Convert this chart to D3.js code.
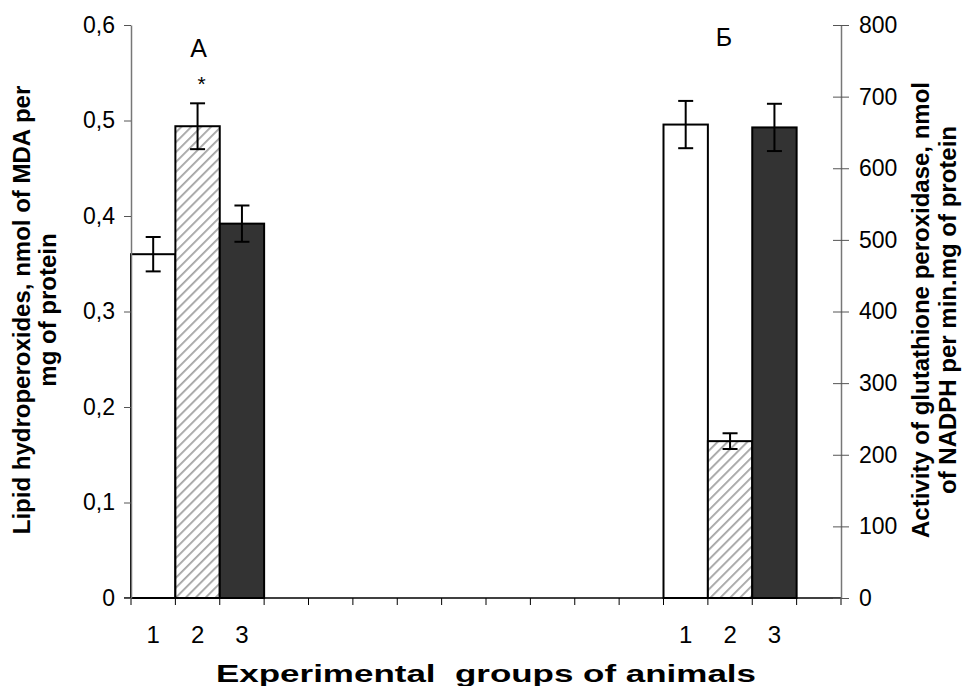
<!DOCTYPE html>
<html><head><meta charset="utf-8">
<script src="https://cdn.jsdelivr.net/npm/d3@7"></script>
<style>body{margin:0;background:#fff}svg{display:block}text{font-family:Arial,"Liberation Sans",sans-serif}</style>
</head><body><svg id="c" width="967" height="686"></svg>
<script>
const categories = ["1","2","3","","","","","","","","","","1","2","3",""];
const groupA = [0, 1, 2];
const valuesA = [0.36, 0.494, 0.392];
const errA = [0.018, 0.024, 0.019];
const groupB = [12, 13, 14];
const valuesB = [661, 219, 657];
const errB = [33, 11, 33];
const fills = ["white", "url(#hatch)", "#333333"];
const leftTicks = [0, 0.1, 0.2, 0.3, 0.4, 0.5, 0.6];
const rightTicks = [0, 100, 200, 300, 400, 500, 600, 700, 800];
const starA = 1, starB = 13;

const svg = d3.select("#c");
const L = 131, R = 841, T = 25, B = 598;
const FONT = "Arial, Liberation Sans, sans-serif";
const defs = svg.append("defs");
const pat = defs.append("pattern").attr("id","hatch").attr("patternUnits","userSpaceOnUse")
  .attr("width",7).attr("height",7).attr("patternTransform","rotate(45)");
pat.append("rect").attr("width",7).attr("height",7).attr("fill","white");
pat.append("line").attr("x1",0).attr("y1",0).attr("x2",0).attr("y2",7).attr("stroke","#a4a4a4").attr("stroke-width",3.6);

const x = d3.scaleBand().domain(d3.range(categories.length)).range([L, R]).padding(0);
const yL = d3.scaleLinear().domain([0, 0.6]).range([B, T]);
const yR = d3.scaleLinear().domain([0, 800]).range([B, T]);

const gB = svg.append("g");
groupA.forEach((c, i) => {
  gB.append("rect").attr("x", x(c)).attr("y", yL(valuesA[i])).attr("width", x.bandwidth())
    .attr("height", B - yL(valuesA[i])).attr("fill", fills[i]).attr("stroke","#000").attr("stroke-width",2);
});
groupB.forEach((c, i) => {
  gB.append("rect").attr("x", x(c)).attr("y", yR(valuesB[i])).attr("width", x.bandwidth())
    .attr("height", B - yR(valuesB[i])).attr("fill", fills[i]).attr("stroke","#000").attr("stroke-width",2);
});
function errbar(cx, y1, y2) {
  const g = svg.append("g").attr("stroke","#000").attr("stroke-width",2);
  g.append("line").attr("x1",cx).attr("x2",cx).attr("y1",y1).attr("y2",y2);
  g.append("line").attr("x1",cx-7.5).attr("x2",cx+7.5).attr("y1",y1).attr("y2",y1);
  g.append("line").attr("x1",cx-7.5).attr("x2",cx+7.5).attr("y1",y2).attr("y2",y2);
}
groupA.forEach((c, i) => errbar(x(c)+x.bandwidth()/2, yL(valuesA[i]+errA[i]), yL(valuesA[i]-errA[i])));
groupB.forEach((c, i) => errbar(x(c)+x.bandwidth()/2, yR(valuesB[i]+errB[i]), yR(valuesB[i]-errB[i])));

// asterisks and panel letters
svg.append("text").attr("x", x(starA)+x.bandwidth()/2 + 4).attr("y", yL(valuesA[starA]+errA[starA]) - 12)
  .attr("text-anchor","middle").attr("font-size",21).attr("font-family",FONT).text("*");
svg.append("text").attr("x", x(starB)+x.bandwidth()/2 + 2).attr("y", yR(valuesB[starB]+errB[starB]) - 12)
  .attr("text-anchor","middle").attr("font-size",21).attr("font-family",FONT).text("*");
svg.append("text").attr("x", x(starA)+x.bandwidth()/2 + 1).attr("y", 57).attr("text-anchor","middle")
  .attr("font-size",25).attr("font-family",FONT).text("А");
svg.append("text").attr("x", x(starB)+x.bandwidth()/2 - 6).attr("y", 46).attr("text-anchor","middle")
  .attr("font-size",25).attr("font-family",FONT).text("Б");

// x axis
const xa = svg.append("g").attr("transform",`translate(0,${B})`);
xa.append("line").attr("x1", L - 7).attr("x2", R).attr("y1", 0).attr("y2", 0).attr("stroke","#000").attr("stroke-width",1.5);
const edges = d3.range(categories.length + 1).map(i => L + i * x.bandwidth());
xa.selectAll("line.edge").data(edges).enter().append("line").attr("class","edge")
  .attr("x1", d => d).attr("x2", d => d).attr("y1", 0).attr("y2", 7).attr("stroke","#000").attr("stroke-width",1);
xa.selectAll("text.cat").data(categories.map((d, i) => ({d, i})).filter(o => o.d !== "")).enter().append("text").attr("class","cat")
  .attr("x", o => x(o.i) + x.bandwidth()/2).attr("y", 45).attr("text-anchor","middle")
  .attr("font-size",24).attr("font-family",FONT).attr("fill","#000").text(o => o.d);

// left axis
const fmt = d => d === 0 ? "0" : d3.format(".1f")(d).replace(".", ",");
const la = svg.append("g").attr("transform",`translate(${L},0)`)
  .call(d3.axisLeft(yL).tickValues(leftTicks).tickFormat(fmt).tickSize(7).tickSizeOuter(0).tickPadding(9));
la.select(".domain").attr("stroke","#777").attr("stroke-width",1.5);
la.selectAll(".tick line").attr("stroke","#555");
la.selectAll(".tick text").attr("font-size",23).attr("fill","#000").attr("font-family",FONT);

// right axis
const ra = svg.append("g").attr("transform",`translate(${R},0)`)
  .call(d3.axisRight(yR).tickValues(rightTicks).tickSize(8).tickSizeOuter(0).tickPadding(10));
ra.select(".domain").attr("stroke","#777").attr("stroke-width",1.5);
ra.selectAll(".tick line").attr("x1",-8).attr("stroke","#555");
ra.selectAll(".tick text").attr("font-size",23).attr("fill","#000").attr("font-family",FONT);

// titles
const cy = 310;
const lt = svg.append("text").attr("transform",`translate(30,${cy}) rotate(-90)`).attr("text-anchor","middle")
  .attr("font-size",24).attr("font-weight","bold").attr("font-family",FONT);
lt.append("tspan").attr("x",0).attr("dy",0).text("Lipid hydroperoxides, nmol of MDA per");
lt.append("tspan").attr("x",0).attr("dy",26).text("mg of protein");
const rt = svg.append("text").attr("transform",`translate(929,${cy}) rotate(-90)`).attr("text-anchor","middle")
  .attr("font-size",24).attr("font-weight","bold").attr("font-family",FONT);
rt.append("tspan").attr("x",0).attr("dy",0).text("Activity of glutathione peroxidase, nmol");
rt.append("tspan").attr("x",0).attr("dy",27).text("of NADPH per min.mg of protein");
svg.append("text").attr("x",486).attr("y",682).attr("text-anchor","middle").attr("font-size",23)
  .attr("font-weight","bold").attr("font-family",FONT).style("white-space","pre")
  .attr("textLength",540).attr("lengthAdjust","spacingAndGlyphs").text("Experimental  groups of animals");
</script></body></html>
